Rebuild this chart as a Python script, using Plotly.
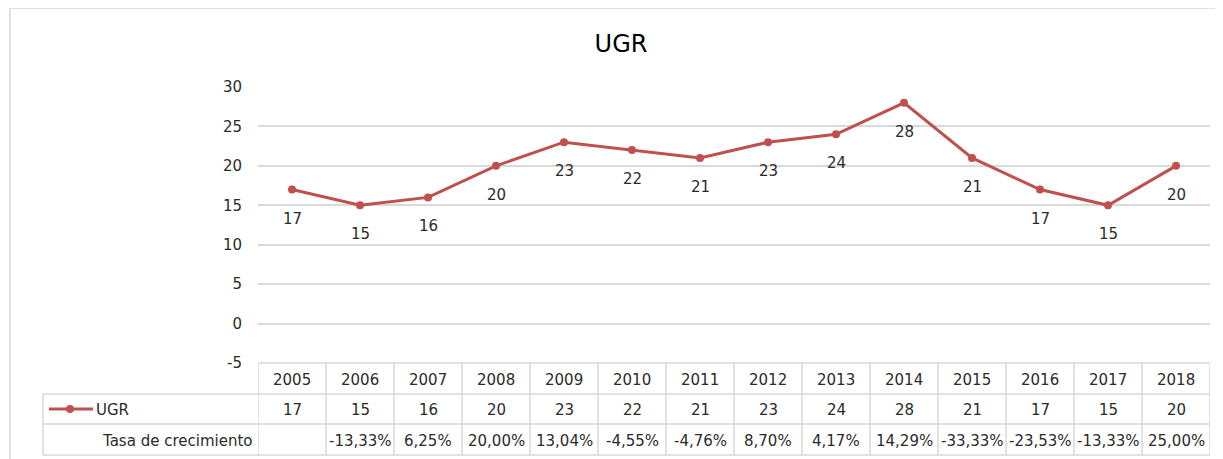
import plotly.graph_objects as go

years = ["2005", "2006", "2007", "2008", "2009", "2010", "2011", "2012",
         "2013", "2014", "2015", "2016", "2017", "2018"]
ugr = [17, 15, 16, 20, 23, 22, 21, 23, 24, 28, 21, 17, 15, 20]
tasa = ["", "-13,33%", "6,25%", "20,00%", "13,04%", "-4,55%", "-4,76%", "8,70%",
        "4,17%", "14,29%", "-33,33%", "-23,53%", "-13,33%", "25,00%"]
y_ticks = [-5, 0, 5, 10, 15, 20, 25, 30]
y_tick_text = ["-5", "0", "5", "10", "15", "20", "25", "30"]

O = 8  # page body margin offset
W, H = 1223 - O, 459 - O
L, R = 258 - O, 1210 - O
T, B = 87 - O, 363 - O
FONT = "DejaVu Sans"
GRID = "#d9d9d9"
LINE = "#c0504d"
TXT = "#2b2b2b"
FS = 15

def py(p):  # reference pixel y -> paper y
    return (B - (p - O)) / (B - T)

def px(p):  # reference pixel x -> paper x
    return ((p - O) - L) / (R - L)

xs = list(range(len(years)))

fig = go.Figure()
fig.add_trace(go.Scatter(
    x=xs, y=ugr, mode="lines+markers",
    line=dict(color=LINE, width=3),
    marker=dict(color=LINE, size=8),
    showlegend=False, hoverinfo="skip",
))

shapes = []
annotations = []

# outer chart border
shapes.append(dict(type="rect", xref="paper", yref="paper",
                   x0=px(10), x1=px(1240), y0=py(8), y1=py(480),
                   line=dict(color=GRID, width=1.5)))

# data labels below points
for i, v in enumerate(ugr):
    annotations.append(dict(x=i, y=v, xref="x", yref="y", text=str(v),
                            showarrow=False, yshift=-29,
                            font=dict(family=FONT, size=FS, color=TXT)))

# table geometry
rows = [363, 394, 424, 455]
n = len(years)
shapes.append(dict(type="line", xref="x", yref="paper", x0=-0.5, x1=n - 0.5,
                   y0=py(rows[0]), y1=py(rows[0]), line=dict(color=GRID, width=1.5)))
for r in rows[1:]:
    shapes.append(dict(type="line", xref="paper", yref="paper", x0=px(43), x1=1,
                       y0=py(r), y1=py(r), line=dict(color=GRID, width=1.5)))
for k in range(n + 1):
    shapes.append(dict(type="line", xref="x", yref="paper", x0=k - 0.5, x1=k - 0.5,
                       y0=py(rows[0]), y1=py(rows[3]), line=dict(color=GRID, width=1.5)))
shapes.append(dict(type="line", xref="paper", yref="paper", x0=px(43), x1=px(43),
                   y0=py(rows[1]), y1=py(rows[3]), line=dict(color=GRID, width=1.5)))

row_centers = [(rows[0] + rows[1]) / 2 + 1, (rows[1] + rows[2]) / 2 + 1, (rows[2] + rows[3]) / 2 + 1]
for i in range(n):
    for txt, rc in zip([years[i], str(ugr[i]), tasa[i]], row_centers):
        if txt:
            annotations.append(dict(x=i, y=py(rc), xref="x", yref="paper", text=txt,
                                    showarrow=False, yanchor="middle",
                                    font=dict(family=FONT, size=FS, color=TXT)))

# legend key in table
shapes.append(dict(type="line", xref="paper", yref="paper", x0=px(49), x1=px(93),
                   y0=py(row_centers[1] - 1), y1=py(row_centers[1] - 1),
                   line=dict(color=LINE, width=3)))
shapes.append(dict(type="circle", xref="paper", yref="paper",
                   x0=px(66), x1=px(74), y0=py(row_centers[1] - 5), y1=py(row_centers[1] + 3),
                   fillcolor=LINE, line=dict(color=LINE, width=0)))
annotations.append(dict(x=px(94), y=py(row_centers[1]), xref="paper", yref="paper",
                        text="UGR", showarrow=False, xanchor="left", yanchor="middle",
                        font=dict(family=FONT, size=FS, color=TXT)))
annotations.append(dict(x=px(254), y=py(row_centers[2]), xref="paper", yref="paper",
                        text="Tasa de crecimiento", showarrow=False, xanchor="right",
                        yanchor="middle", font=dict(family=FONT, size=FS, color=TXT)))

fig.update_layout(
    width=W, height=H,
    margin=dict(l=L, r=W - R, t=T, b=H - B),
    paper_bgcolor="white", plot_bgcolor="white",
    title=dict(text="UGR", x=(621 - O) / W, xanchor="center", y=1 - (44 - O) / H,
               yanchor="middle",
               font=dict(family=FONT, size=24, color="#000000")),
    xaxis=dict(range=[-0.5, n - 0.5], showgrid=False, zeroline=False,
               showticklabels=False, showline=False, fixedrange=True),
    yaxis=dict(range=[-5, 30], tickvals=y_ticks, ticktext=y_tick_text,
               showgrid=True, gridcolor=GRID,
               gridwidth=1.5, zeroline=False, showline=False, ticks="",
               ticklabelstandoff=15,
               tickfont=dict(family=FONT, size=FS, color=TXT), fixedrange=True),
    shapes=shapes, annotations=annotations,
)

fig.write_html("out.html")
